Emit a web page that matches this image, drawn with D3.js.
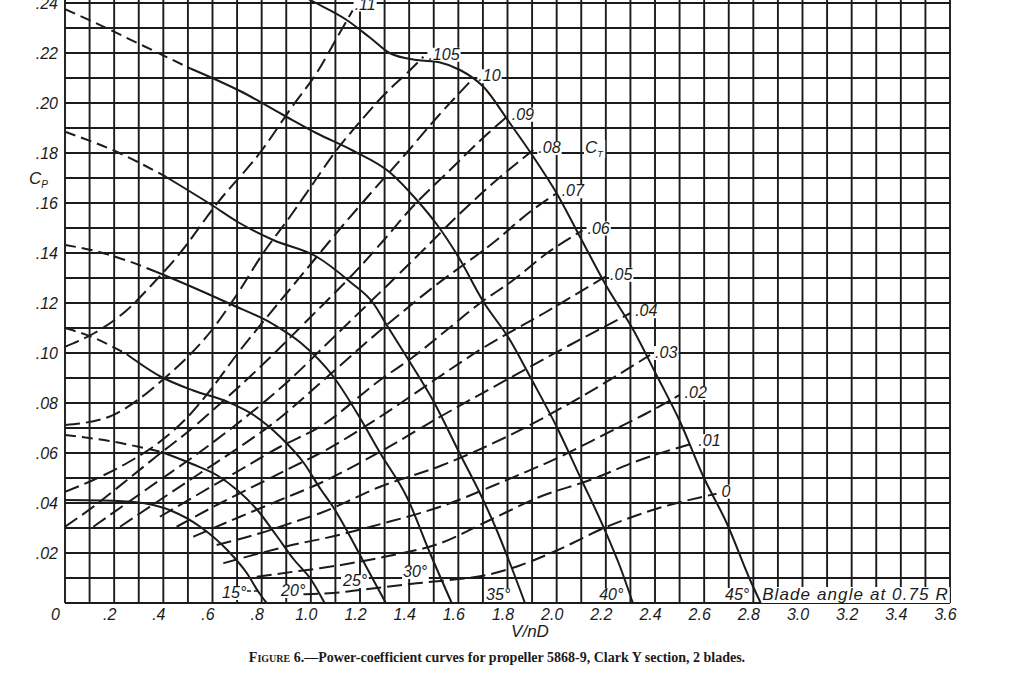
<!DOCTYPE html>
<html><head><meta charset="utf-8">
<script src="https://cdn.jsdelivr.net/npm/d3@7"></script>
<style>body{margin:0;background:#fff}svg{display:block}</style>
</head><body><svg id="c" width="1024" height="692"></svg>
<script>
// ---------- DATA ----------
const xTickValues = [0,0.2,0.4,0.6,0.8,1.0,1.2,1.4,1.6,1.8,2.0,2.2,2.4,2.6,2.8,3.0,3.2,3.4,3.6];
const xTickLabels = ["0",".2",".4",".6",".8","1.0","1.2","1.4","1.6","1.8","2.0","2.2","2.4","2.6","2.8","3.0","3.2","3.4","3.6"];
const yTickValues = [0.02,0.04,0.06,0.08,0.10,0.12,0.14,0.16,0.18,0.20,0.22,0.24];
const yTickLabels = [".02",".04",".06",".08",".10",".12",".14",".16",".18",".20",".22",".24"];

// blade-angle curves (Cp vs V/nD), solid; left part dashed (extrapolated)
const bladeAngles = ["15°","20°","25°","30°","35°","40°","45°"];
const cp15 = [[0,0.0412],[0.15,0.041],[0.29,0.0403],[0.43,0.037],[0.55,0.0305],[0.66,0.0212],[0.74,0.0119],[0.79,0.004],[0.82,0]];
const cp20 = [[0,0.0672],[0.18,0.0648],[0.39,0.0605],[0.52,0.0555],[0.62,0.051],[0.7,0.0452],[0.78,0.0375],[0.86,0.027],[0.93,0.0175],[1.0,0.0095],[1.056,0]];
const cp25 = [[0,0.11],[0.115,0.1062],[0.251,0.0995],[0.39,0.0905],[0.522,0.085],[0.66,0.0805],[0.77,0.075],[0.875,0.0665],[0.97,0.0562],[1.04,0.0455],[1.09,0.0385],[1.2,0.0192],[1.25,0.01],[1.305,0]];
const cp30 = [[0,0.1432],[0.115,0.141],[0.251,0.137],[0.37,0.1325],[0.522,0.1262],[0.67,0.1197],[0.847,0.1115],[0.96,0.104],[1.092,0.0905],[1.2,0.074],[1.282,0.06],[1.39,0.0425],[1.485,0.0199],[1.573,0]];
const cp35 = [[0,0.1885],[0.21,0.1805],[0.41,0.1705],[0.6,0.159],[0.71,0.152],[0.847,0.1452],[1.024,0.1385],[1.159,0.1285],[1.254,0.1199],[1.31,0.111],[1.404,0.0962],[1.5,0.0805],[1.607,0.0595],[1.688,0.0439],[1.756,0.0292],[1.81,0.0159],[1.871,0]];
const cp40 = [[0,0.2375],[0.12,0.2322],[0.32,0.2228],[0.51,0.2138],[0.617,0.2092],[0.712,0.2048],[0.888,0.1952],[1.024,0.1879],[1.17,0.181],[1.322,0.1722],[1.431,0.1612],[1.512,0.1515],[1.6,0.1385],[1.702,0.1205],[1.81,0.1052],[1.892,0.0905],[2.0,0.0705],[2.095,0.0505],[2.19,0.0305],[2.258,0.0145],[2.31,0]];
const cp45 = [[0.9,0.2465],[0.997,0.2412],[1.146,0.2332],[1.24,0.2262],[1.322,0.2199],[1.431,0.2172],[1.526,0.2162],[1.607,0.2132],[1.702,0.2065],[1.81,0.1919],[1.905,0.1785],[2.0,0.1639],[2.1,0.1455],[2.204,0.1265],[2.312,0.1092],[2.407,0.091],[2.502,0.0725],[2.597,0.0505],[2.692,0.0319],[2.787,0.0092],[2.83,0]];
const bladeDashedUntil = [0, 0.3, 0.2, 0.3, 0.3, 0.37, 0];
// label anchor (left, baseline) for each blade angle
const bladeLabelX = [0.639,0.879,1.131,1.375,1.713,2.173,2.685];
const bladeLabelY = [0.002,0.0028,0.0068,0.0104,0.0012,0.0012,0.0012];

// thrust-coefficient curves (dashed)
const ctLabels = [".11",".105",".10",".09",".08",".07",".06",".05",".04",".03",".02",".01","0"];
const ct11  = [[0,0.1025],[0.12,0.108],[0.25,0.117],[0.36,0.128],[0.46,0.139],[0.62,0.16],[0.8,0.181],[0.92,0.198],[1.03,0.213],[1.1,0.225],[1.17,0.237]];
const ct105 = [[0,0.0712],[0.18,0.0745],[0.3,0.0815],[0.4,0.0895],[0.5,0.0985],[0.6,0.1095],[0.7,0.1235],[0.81,0.1405],[0.915,0.1545],[1.01,0.1679],[1.105,0.1812],[1.2,0.1925],[1.3,0.2035],[1.4,0.2128],[1.458,0.2185]];
const ct10  = [[0,0.0445],[0.115,0.0492],[0.251,0.0559],[0.386,0.0645],[0.495,0.074],[0.59,0.085],[0.7,0.0995],[0.81,0.113],[0.915,0.1255],[1.02,0.138],[1.13,0.151],[1.24,0.1635],[1.38,0.179],[1.52,0.195],[1.661,0.2099]];
const ct09  = [[0,0.0305],[0.115,0.0385],[0.25,0.049],[0.37,0.0585],[0.5,0.0685],[0.6,0.077],[0.8,0.095],[1.0,0.1145],[1.2,0.1345],[1.3,0.1455],[1.4,0.157],[1.566,0.1732],[1.7,0.186],[1.797,0.1945]];
const ct08  = [[0.115,0.0305],[0.251,0.0399],[0.386,0.0492],[0.522,0.0585],[0.685,0.0705],[0.9,0.088],[1.1,0.107],[1.3,0.126],[1.471,0.1425],[1.593,0.1545],[1.756,0.1692],[1.905,0.1812]];
const ct07  = [[0.224,0.0305],[0.386,0.0412],[0.549,0.0519],[0.712,0.0625],[0.847,0.0719],[1.05,0.089],[1.282,0.109],[1.5,0.1265],[1.756,0.1452],[1.892,0.1565],[2.0,0.1639]];
const ct06  = [[0.386,0.0345],[0.549,0.0439],[0.712,0.0532],[0.875,0.0625],[1.037,0.0705],[1.282,0.0892],[1.417,0.0985],[1.553,0.1092],[1.688,0.1199],[1.824,0.1292],[1.96,0.1399],[2.105,0.149]];
const ct05  = [[0.454,0.0305],[0.631,0.0399],[0.793,0.0479],[0.956,0.0559],[1.037,0.0599],[1.282,0.0745],[1.5,0.089],[1.7,0.102],[1.95,0.116],[2.197,0.1305]];
const ct04  = [[0.522,0.0265],[0.712,0.0345],[0.875,0.0412],[1.037,0.0479],[1.282,0.0605],[1.526,0.0745],[1.8,0.0895],[2.05,0.103],[2.299,0.1159]];
const ct03  = [[0.617,0.0232],[0.793,0.0279],[0.956,0.0332],[1.037,0.0359],[1.282,0.0465],[1.526,0.0548],[1.797,0.0665],[2.1,0.0825],[2.38,0.0992]];
const ct02  = [[0.644,0.0159],[0.793,0.0199],[0.956,0.0239],[1.037,0.0255],[1.3,0.032],[1.526,0.0385],[1.797,0.0492],[2.014,0.0585],[2.204,0.0679],[2.366,0.0759],[2.5,0.0832]];
const ct01  = [[0.78,0.0105],[0.929,0.0125],[1.037,0.0139],[1.3,0.0185],[1.526,0.0239],[1.729,0.0332],[1.932,0.0425],[2.136,0.0492],[2.339,0.0572],[2.556,0.0639]];
const ct00  = [[0.97,0.0035],[1.09,0.004],[1.25,0.0058],[1.431,0.0079],[1.566,0.0092],[1.716,0.0112],[1.85,0.015],[2.0,0.021],[2.204,0.0305],[2.4,0.0375],[2.65,0.0437]];

// ---------- DRAW ----------
const svg = d3.select("#c");
const ink = "#1b1b1b";
const FONT = "'Liberation Sans', Arial, sans-serif";
const x = d3.scaleLinear().domain([0,3.6]).range([65,950]);
const y = d3.scaleLinear().domain([0,0.24]).range([603,3]);

svg.append("rect").attr("width",1024).attr("height",692).attr("fill","#fff");

svg.append("defs").append("clipPath").attr("id","plot")
  .append("rect").attr("x",x(0)).attr("y",0).attr("width",x(3.6)-x(0)).attr("height",y(0));

const gGrid = svg.append("g");
const gBg = svg.append("g");
const gCurves = svg.append("g").attr("clip-path","url(#plot)");
const gText = svg.append("g");

// grid
const yTop = y.invert(0);
gGrid.selectAll("line.v").data(d3.range(0,37).map(i=>i/10)).join("line")
  .attr("x1",d=>x(d)).attr("x2",d=>x(d)).attr("y1",y(yTop)).attr("y2",y(0))
  .attr("stroke",ink).attr("stroke-width",1.9);
gGrid.selectAll("line.h").data(d3.range(0,25).map(i=>i/100)).join("line")
  .attr("y1",d=>y(d)).attr("y2",d=>y(d)).attr("x1",x(0)).attr("x2",x(3.6))
  .attr("stroke",ink).attr("stroke-width",1.9);

// axes labels via d3 axes
const ax = svg.append("g").attr("transform",`translate(0,${y(0)})`)
  .call(d3.axisBottom(x).tickValues(xTickValues).tickFormat((d,i)=>xTickLabels[i]).tickSize(0).tickPadding(6));
ax.select(".domain").remove();
ax.selectAll("text").attr("font-family",FONT).attr("font-style","italic").attr("font-size",16)
  .attr("fill",ink).attr("dx",d=>d===0?-10:-5);
const ay = svg.append("g").attr("transform",`translate(${x(0)},0)`)
  .call(d3.axisLeft(y).tickValues(yTickValues).tickFormat((d,i)=>yTickLabels[i]).tickSize(0).tickPadding(7));
ay.select(".domain").remove();
ay.selectAll("text").attr("font-family",FONT).attr("font-style","italic").attr("font-size",16).attr("fill",ink);

// axis titles
const cpT = svg.append("text").attr("x",29).attr("y",184).attr("font-family",FONT).attr("font-style","italic")
  .attr("font-size",17).attr("fill",ink);
cpT.append("tspan").text("C");
cpT.append("tspan").attr("font-size",10).attr("dy",4).text("P");
svg.append("text").attr("x",530).attr("y",637).attr("text-anchor","middle").attr("font-family",FONT)
  .attr("font-style","italic").attr("font-size",17).attr("fill",ink).text("V/nD");

// caption
const cap = svg.append("text").attr("x",497).attr("y",662).attr("text-anchor","middle")
  .attr("font-family","'Liberation Serif', 'Times New Roman', serif").attr("font-weight","bold")
  .attr("font-size",14).attr("fill",ink);
cap.append("tspan").attr("font-variant","small-caps").text("Figure 6.");
cap.append("tspan").text("—Power-coefficient curves for propeller 5868-9, Clark Y section, 2 blades.");

// line generator
const line = d3.line().x(d=>x(d[0])).y(d=>y(d[1])).curve(d3.curveMonotoneX);

// label helper with white background
function label(px, py, txt, size, anchor) {
  const t = gText.append("text").attr("x",px).attr("y",py).attr("font-family",FONT)
    .attr("font-style","italic").attr("font-size",size||16).attr("fill",ink)
    .attr("text-anchor",anchor||"start").text(txt);
  return t;
}
function backdrop(t) {
  const b = t.node().getBBox();
  gBg.append("rect").attr("x",b.x-1).attr("y",b.y+2).attr("width",b.width+2).attr("height",b.height-3).attr("fill","#fff");
}

// Ct dashed curves
const ctSeries = [ct11,ct105,ct10,ct09,ct08,ct07,ct06,ct05,ct04,ct03,ct02,ct01,ct00];
ctSeries.forEach((s,i)=>{
  gCurves.append("path").attr("d",line(s)).attr("fill","none").attr("stroke",ink)
    .attr("stroke-width",2).attr("stroke-dasharray","15,6");
  const e = s[s.length-1];
  const t = (i===0) ? label(x(e[0])+2, y(e[1])-1, ctLabels[i]) : label(x(e[0])+5, y(e[1])+3, ctLabels[i]);
  backdrop(t);
});
// C_T label
const ctT = gText.append("text").attr("x",x(2.115)).attr("y",y(0.18)).attr("font-family",FONT)
  .attr("font-style","italic").attr("font-size",17).attr("fill",ink);
ctT.append("tspan").text("C");
ctT.append("tspan").attr("font-size",9).attr("dy",4).text("T");
backdrop(ctT);

// blade-angle curves
const bladeSeries = [cp15,cp20,cp25,cp30,cp35,cp40,cp45];
bladeSeries.forEach((s,i)=>{
  const cut = bladeDashedUntil[i];
  if (cut > 0) {
    let k = s.findIndex(p=>p[0] > cut);
    const dashed = s.slice(0,k+1), solid = s.slice(k);
    gCurves.append("path").attr("d",line(dashed)).attr("fill","none").attr("stroke",ink)
      .attr("stroke-width",2).attr("stroke-dasharray","11,6");
    gCurves.append("path").attr("d",line(solid)).attr("fill","none").attr("stroke",ink).attr("stroke-width",2);
  } else {
    gCurves.append("path").attr("d",line(s)).attr("fill","none").attr("stroke",ink).attr("stroke-width",2);
  }
  backdrop(label(x(bladeLabelX[i]), y(bladeLabelY[i]), bladeAngles[i]));
});
// leader from 15° label to its curve
gCurves.append("line").attr("x1",x(0.74)).attr("x2",x(0.8)).attr("y1",y(0.0048)).attr("y2",y(0.0048))
  .attr("stroke",ink).attr("stroke-width",1.5).attr("stroke-dasharray","4,3");
// blade angle note
const note = label(x(2.836), y(0.0012), "Blade angle at 0.75 R", 17);
note.attr("letter-spacing",1.1);
backdrop(note);
</script></body></html>
